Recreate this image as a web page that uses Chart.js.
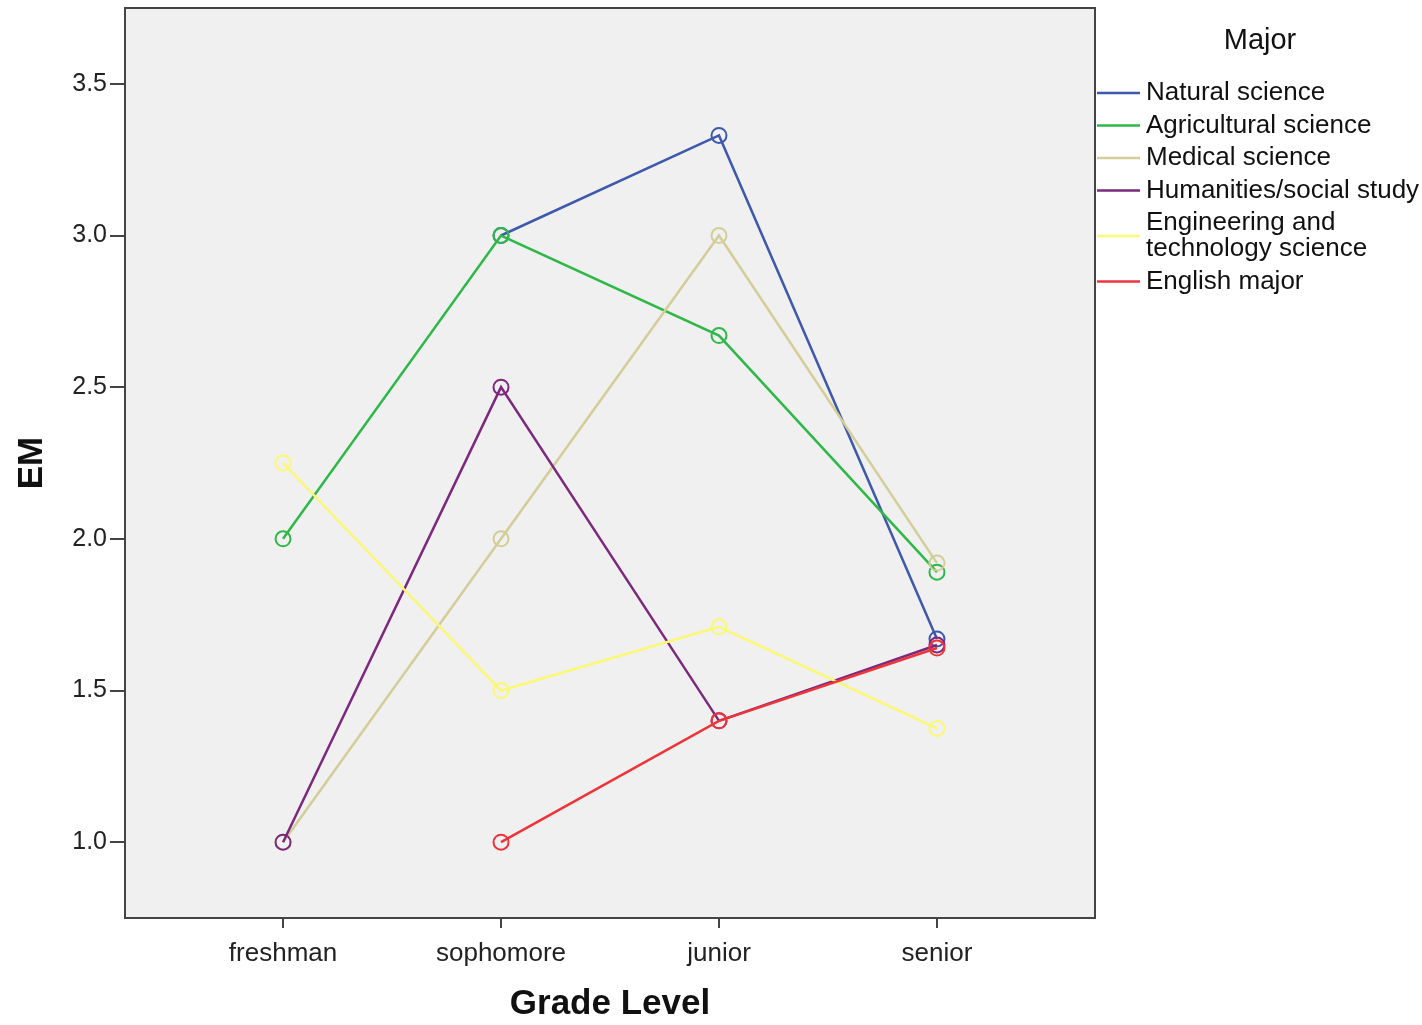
<!DOCTYPE html>
<html>
<head>
<meta charset="utf-8">
<script src="https://cdn.jsdelivr.net/npm/chart.js@4/dist/chart.umd.min.js"></script>
<style>
  body { margin: 0; background: #fff; overflow: hidden; }
  #wrap { width: 1422px; height: 1035px; position: relative; top: -10px; }
</style>
</head>
<body>
<div id="wrap"><canvas id="chart"></canvas></div>
<script>
const grades = ['freshman', 'sophomore', 'junior', 'senior'];
const yTicks = [1.0, 1.5, 2.0, 2.5, 3.0, 3.5];

const majors = ['Natural science', 'Agricultural science', 'Medical science',
  'Humanities/social study', 'Engineering and technology science', 'English major'];
const legendLines = [['Natural science'], ['Agricultural science'], ['Medical science'],
  ['Humanities/social study'], ['Engineering and', 'technology science'], ['English major']];
const colors = ['#3e58ac', '#2eb848', '#d3ce97', '#7c287d', '#fbf873', '#ef3338'];

// mean EM per grade (null = no data)
const natural = [null, 3.0, 3.33, 1.67];
const agricultural = [2.0, 3.0, 2.67, 1.89];
const medical = [1.0, 2.0, 3.0, 1.92];
const humanities = [1.0, 2.5, 1.4, 1.65];
const engineering = [2.25, 1.5, 1.71, 1.375];
const english = [null, 1.0, 1.4, 1.64];
const series = [natural, agricultural, medical, humanities, engineering, english];

const FONT = "'Liberation Sans', Arial, sans-serif";
const SHIFT = 10; // canvas sits 10px above the page top

const toPoints = vals => vals.map((v, i) => ({ x: i, y: v })).filter(p => p.y !== null);

// grey plot background + frame
const frame = {
  id: 'frame',
  beforeDraw(chart) {
    const { ctx, chartArea: a } = chart;
    ctx.save();
    ctx.fillStyle = '#f0f0f0';
    ctx.fillRect(a.left, a.top, a.right - a.left, a.bottom - a.top);
    ctx.restore();
  },
  afterDraw(chart) {
    const { ctx, chartArea: a } = chart;
    ctx.save();
    ctx.strokeStyle = '#444';
    ctx.lineWidth = 2;
    ctx.strokeRect(a.left, a.top, a.right - a.left, a.bottom - a.top);
    ctx.restore();
  }
};

// SPSS style legend on the right
const sideLegend = {
  id: 'sideLegend',
  afterDraw(chart) {
    const ctx = chart.ctx;
    ctx.save();
    ctx.translate(0, SHIFT);
    ctx.fillStyle = '#111';
    ctx.textBaseline = 'middle';
    ctx.font = '29px ' + FONT;
    ctx.textAlign = 'center';
    ctx.fillText('Major', 1260, 41);
    ctx.font = '26px ' + FONT;
    ctx.textAlign = 'left';
    let y = 93;
    chart.data.datasets.forEach((ds, i) => {
      const lines = legendLines[i];
      const mid = y + (lines.length - 1) * 26 / 2;
      ctx.strokeStyle = ds.borderColor;
      ctx.lineWidth = 2.5;
      ctx.beginPath();
      ctx.moveTo(1097, mid);
      ctx.lineTo(1140, mid);
      ctx.stroke();
      ctx.fillStyle = '#111';
      lines.forEach((t, k) => ctx.fillText(t, 1146, y + k * 26));
      y += lines.length * 26 + 6.5;
    });
    ctx.restore();
  }
};

new Chart(document.getElementById('chart'), {
  type: 'line',
  data: {
    datasets: series.map((vals, i) => ({
      label: majors[i],
      data: toPoints(vals),
      borderColor: colors[i],
      backgroundColor: 'transparent',
      pointBackgroundColor: 'transparent',
      pointBorderColor: colors[i],
      pointRadius: 7.5,
      pointBorderWidth: 2,
      borderWidth: 2.5,
      tension: 0,
      order: series.length - i
    }))
  },
  options: {
    responsive: true,
    maintainAspectRatio: false,
    animation: false,
    layout: { padding: { top: 0, right: 327, left: 0, bottom: 0 } },
    plugins: { legend: { display: false }, tooltip: { enabled: false } },
    scales: {
      x: {
        type: 'linear',
        min: -0.725,
        max: 3.725,
        afterBuildTicks: s => { s.ticks = grades.map((g, i) => ({ value: i })); },
        afterFit: s => { s.height = 107; },
        ticks: {
          callback: v => grades[v],
          color: '#222',
          font: { family: FONT, size: 26 },
          padding: 10,
          maxRotation: 0
        },
        grid: { drawOnChartArea: false, drawTicks: true, tickLength: 10, color: '#444', lineWidth: 2 },
        border: { display: true, color: '#444', width: 2 },
        title: {
          display: true,
          text: 'Grade Level',
          color: '#111',
          font: { family: FONT, size: 35, weight: 'bold' },
          padding: { top: 0, bottom: 0 }
        }
      },
      y: {
        min: 0.75,
        max: 3.75,
        afterBuildTicks: s => { s.ticks = yTicks.map(v => ({ value: v })); },
        afterFit: s => { s.width = 125; },
        ticks: {
          callback: v => v.toFixed(1),
          color: '#222',
          font: { family: FONT, size: 25 },
          padding: 3
        },
        grid: { drawOnChartArea: false, drawTicks: true, tickLength: 15, color: '#444', lineWidth: 2 },
        border: { display: true, color: '#444', width: 2 },
        title: {
          display: true,
          text: 'EM',
          color: '#111',
          font: { family: FONT, size: 35, weight: 'bold' },
          padding: { top: 11, bottom: 0 }
        }
      }
    }
  },
  plugins: [frame, sideLegend]
});
</script>
</body>
</html>
